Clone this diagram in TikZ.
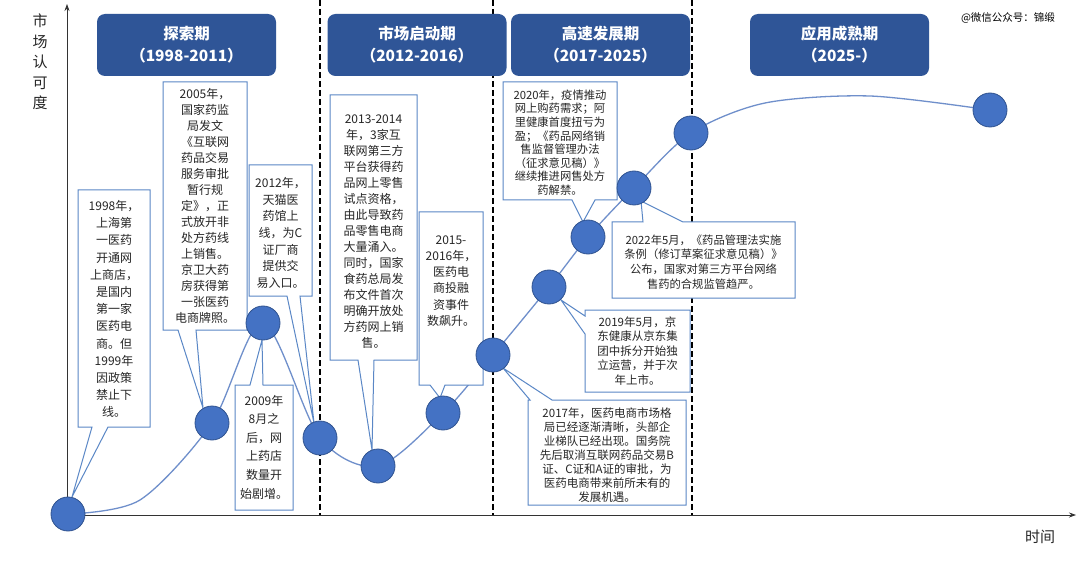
\documentclass[tikz,border=0pt]{standalone}
\usepackage{fontspec}
\newfontfamily\cjk{Noto Sans CJK SC}
\usetikzlibrary{arrows.meta}
\definecolor{hdr}{HTML}{2F5597}
\definecolor{dot}{HTML}{4472C4}
\definecolor{dotb}{HTML}{2F528F}
\definecolor{cb}{HTML}{5A87C6}
\definecolor{curvec}{HTML}{6F8FCB}
\begin{document}
\begin{tikzpicture}[x=1pt,y=-1pt,
  hdrbox/.style={fill=hdr, rounded corners=8pt, minimum width=179pt, minimum height=62pt, text=white, align=center, inner sep=0pt,
     font=\cjk\bfseries\fontsize{15.5}{22}\selectfont},
  dotn/.style={circle, fill=dot, draw=dotb, line width=0.8pt, minimum size=34pt, inner sep=0pt},
  callout/.style={draw=cb, fill=white, line width=1pt, line join=miter},
  ctext/.style={align=center, inner sep=0pt, text=black!85},
  axisl/.style={line width=0.8pt, draw=black!80, -{Stealth[length=7pt,width=5pt]}},
  divider/.style={line width=1.4pt, dash pattern=on 6pt off 3pt, draw=black},
  curvel/.style={line width=1.3pt, draw=curvec},
  axtext/.style={font=\cjk\fontsize{15}{20.5}\selectfont, align=center, inner sep=0pt, text=black!85}
]
\useasboundingbox[fill=white] (0,0) rectangle (1080,567);

% axes
\coordinate (o) at (67,515);
\coordinate (ytop) at (67,4);
\coordinate (xend) at (1076,515);
\draw[axisl] (o) -- (ytop);
\draw[axisl] (o) -- (xend);
\node[axtext] (ylab) at (40,62) {市\\场\\认\\可\\度};
\node[axtext] (xlab) at (1040,537) {时间};
\node[font=\cjk\fontsize{10.5}{12}\selectfont, inner sep=0pt] (wm) at (1008,18) {@微信公众号：锦缎};

% dividers
\coordinate (d1t) at (320,0); \coordinate (d1b) at (320,515);
\coordinate (d2t) at (493,0); \coordinate (d2b) at (493,515);
\coordinate (d3t) at (692,0); \coordinate (d3b) at (692,515);
\draw[divider] (d1t) -- (d1b);
\draw[divider] (d2t) -- (d2b);
\draw[divider] (d3t) -- (d3b);

% headers
\node[hdrbox] (h1) at (186.5,45) {探索期\\（1998-2011）};
\node[hdrbox] (h2) at (417,45) {市场启动期\\（2012-2016）};
\node[hdrbox] (h3) at (600.5,45) {高速发展期\\（2017-2025）};
\node[hdrbox] (h4) at (839.5,45) {应用成熟期\\（2025-）};

% curve points
\coordinate (p1) at (68,514);
\coordinate (p2) at (212,423);
\coordinate (p3) at (263,323);
\coordinate (p4) at (320,438);
\coordinate (p5) at (378,466);
\coordinate (p6) at (443,413);
\coordinate (p7) at (493,355);
\coordinate (p8) at (549,287);
\coordinate (p9) at (588,237);
\coordinate (p10) at (634,188);
\coordinate (p11) at (691,133);
\coordinate (p12) at (990,110);
\draw[curvel] plot[smooth, tension=0.5] coordinates {(p1) (140,500) (p2) (p3) (p4) (p5) (p6) (p7) (p8) (p9) (p10) (p11) (765,103) (870,96) (p12)};

% callout 1
\draw[callout] (78,190) -- (150,190) -- (150,427) -- (108,427) -- (72,497) -- (92,427) -- (78,427) -- cycle;
\node[ctext, font=\cjk\fontsize{12}{17.2}\selectfont] (t1) at (114,309) {1998年，\\上海第\\一医药\\开通网\\上商店，\\是国内\\第一家\\医药电\\商。但\\1999年\\因政策\\禁止下\\线。};

% callout 2
\draw[callout] (163,82) -- (247,82) -- (247,330) -- (196,330) -- (203,408) -- (178,330) -- (163,330) -- cycle;
\node[ctext, font=\cjk\fontsize{12}{16}\selectfont] (t2) at (205,206) {2005年，\\国家药监\\局发文\\《互联网\\药品交易\\服务审批\\暂行规\\定》，正\\式放开非\\处方药线\\上销售。\\京卫大药\\房获得第\\一张医药\\电商牌照。};

% callout 3 (2012)
\draw[callout] (249,165) -- (312,165) -- (312,296) -- (300,296) -- (314,423) -- (287,296) -- (249,296) -- cycle;
\node[ctext, font=\cjk\fontsize{12}{16.7}\selectfont] (t3) at (280.5,233) {2012年，\\天猫医\\药馆上\\线，为C\\证厂商\\提供交\\易入口。};

% callout 4 (2009)
\draw[callout] (235,385) -- (250,385) -- (262,340) -- (263,385) -- (293,385) -- (293,510) -- (235,510) -- cycle;
\node[ctext, font=\cjk\fontsize{12}{18.6}\selectfont] (t4) at (264,447) {2009年\\8月之\\后，网\\上药店\\数量开\\始剧增。};

% callout 5 (2013-2014)
\draw[callout] (330,95) -- (417,95) -- (417,360) -- (374,360) -- (372,450) -- (358,360) -- (330,360) -- cycle;
\node[ctext, font=\cjk\fontsize{12}{16}\selectfont] (t5) at (373.5,232) {2013-2014\\年，3家互\\联网第三方\\平台获得药\\品网上零售\\试点资格，\\由此导致药\\品零售电商\\大量涌入。\\同时，国家\\食药总局发\\布文件首次\\明确开放处\\方药网上销\\售。};

% callout 6 (2015-2016)
\draw[callout] (419,212) -- (483,212) -- (483,385) -- (445,385) -- (440,398) -- (430,385) -- (419,385) -- cycle;
\node[ctext, font=\cjk\fontsize{12}{16.2}\selectfont] (t6) at (451,281) {2015-\\2016年，\\医药电\\商投融\\资事件\\数飙升。};

% callout 7 (2020)
\draw[callout] (503,82) -- (617,82) -- (617,200) -- (595,200) -- (583,222) -- (572,200) -- (503,200) -- cycle;
\node[ctext, font=\cjk\fontsize{11.3}{13.6}\selectfont] (t7) at (560,142.5) {2020年，疫情推动\\网上购药需求；阿\\里健康首度扭亏为\\盈；《药品网络销\\售监督管理办法\\（征求意见稿）》\\继续推进网售处方\\药解禁。};

% callout 8 (2017)
\draw[callout] (528,400) -- (530,400) -- (503,368) -- (552,400) -- (686,400) -- (686,505) -- (528,505) -- cycle;
\node[ctext, font=\cjk\fontsize{11.5}{14}\selectfont] (t8) at (607,455) {2017年，医药电商市场格\\局已经逐渐清晰，头部企\\业梯队已经出现。国务院\\先后取消互联网药品交易B\\证、C证和A证的审批，为\\医药电商带来前所未有的\\发展机遇。};

% callout 9 (2019)
\draw[callout] (585,310) -- (690,310) -- (690,392) -- (585,392) -- (585,334) -- (561,300) -- (585,316) -- cycle;
\node[ctext, font=\cjk\fontsize{11.5}{14.5}\selectfont] (t9) at (637.5,351) {2019年5月，京\\东健康从京东集\\团中拆分开始独\\立运营，并于次\\年上市。};

% callout 10 (2022)
\draw[callout] (612,222) -- (643,222) -- (641,201) -- (683,222) -- (795,222) -- (795,298) -- (612,298) -- cycle;
\node[ctext, font=\cjk\fontsize{11.3}{14.7}\selectfont] (t10) at (703.5,262) {2022年5月，《药品管理法实施\\条例（修订草案征求意见稿）》\\公布，国家对第三方平台网络\\售药的合规监管趋严。};

% circles
\foreach \i in {1,...,12} { \node[dotn] (n\i) at (p\i) {}; }
\end{tikzpicture}
\end{document}
